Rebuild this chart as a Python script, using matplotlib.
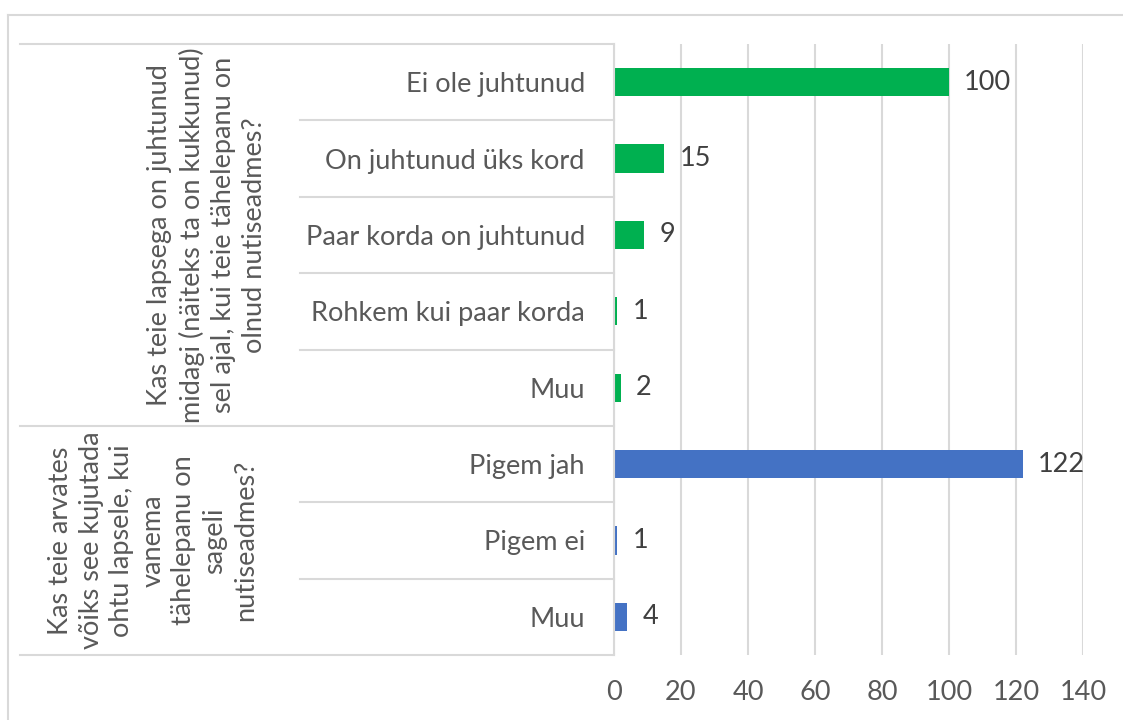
import matplotlib
matplotlib.use('Agg')
import matplotlib.pyplot as plt
from matplotlib.transforms import blended_transform_factory
from matplotlib.lines import Line2D

GREEN = '#00B050'
BLUE = '#4472C4'
GRID = '#D9D9D9'
TICK_TEXT = '#595959'
VALUE_TEXT = '#404040'

plt.rcParams['font.family'] = ['Lato', 'DejaVu Sans']

group_titles = [
    'Kas teie lapsega on juhtunud\nmidagi (näiteks ta on kukkunud)\nsel ajal, kui teie tähelepanu on\nolnud nutiseadmes?',
    'Kas teie arvates\nvõiks see kujutada\nohtu lapsele, kui\nvanema\ntähelepanu on\nsageli\nnutiseadmes?',
]
group1_labels = ['Ei ole juhtunud', 'On juhtunud üks kord', 'Paar korda on juhtunud',
                 'Rohkem kui paar korda', 'Muu']
group1_values = [100, 15, 9, 1, 2]
group2_labels = ['Pigem jah', 'Pigem ei', 'Muu']
group2_values = [122, 1, 4]
x_ticks = [0, 20, 40, 60, 80, 100, 120, 140]

labels = group1_labels + group2_labels
values = group1_values + group2_values
colors = [GREEN] * len(group1_values) + [BLUE] * len(group2_values)
n = len(labels)
FS = 19.5

W, H = 1123, 720
fig = plt.figure(figsize=(W / 100, H / 100), dpi=100)
ax = fig.add_axes([614 / W, 1 - 655 / H, 469 / W, 611 / H])

pos = list(range(n))
ax.barh(pos, values, height=0.37, color=colors, zorder=3)
ax.set_ylim(n - 0.5, -0.5)
ax.set_xlim(x_ticks[0], x_ticks[-1])
ax.set_xticks(x_ticks)
ax.set_yticks(pos)
ax.set_yticklabels(labels)
ax.tick_params(axis='y', length=0, pad=21, labelsize=FS, labelcolor=TICK_TEXT)
ax.tick_params(axis='x', length=0, pad=18, labelsize=FS, labelcolor=TICK_TEXT)
ax.grid(axis='x', color=GRID, linewidth=1.5, zorder=0)
for side in ['top', 'right', 'bottom']:
    ax.spines[side].set_visible(False)
ax.spines['left'].set_color(GRID)
ax.spines['left'].set_linewidth(1.5)
ax.spines['left'].set_zorder(4)

for p, v in zip(pos, values):
    ax.annotate(str(v), (v, p), xytext=(11, 0), textcoords='offset points',
                ha='left', va='center', fontsize=FS, color=VALUE_TEXT)

# category table lines to the left of the axis
tr = blended_transform_factory(ax.transAxes, ax.transData)
outer_x = (20 - 614) / 469
inner_x = (300 - 614) / 469
n1 = len(group1_labels)
for b in [-0.5, n1 - 0.5, n - 0.5]:
    ax.plot([outer_x, 0], [b, b], color=GRID, lw=1.5, transform=tr, clip_on=False)
for b in [i + 0.5 for i in range(n - 1) if i + 0.5 != n1 - 0.5]:
    ax.plot([inner_x, 0], [b, b], color=GRID, lw=1.5, transform=tr, clip_on=False)

# group titles
ax.text((207 - 614) / 469, (n1 - 1) / 2, group_titles[0], transform=tr, rotation=90,
        ha='center', va='center', multialignment='center', fontsize=FS,
        color=TICK_TEXT, linespacing=1.3)
ax.text((153 - 614) / 469, n1 + (len(group2_labels) - 1) / 2, group_titles[1], transform=tr,
        rotation=90, ha='center', va='center', multialignment='center', fontsize=FS,
        color=TICK_TEXT, linespacing=1.3)

# outer chart frame
fig.add_artist(Line2D([8 / W, 1], [1 - 15 / H, 1 - 15 / H], color=GRID, lw=1.5))
fig.add_artist(Line2D([8 / W, 8 / W], [0, 1 - 15 / H], color=GRID, lw=1.5))

fig.savefig('out.png', dpi=100)
